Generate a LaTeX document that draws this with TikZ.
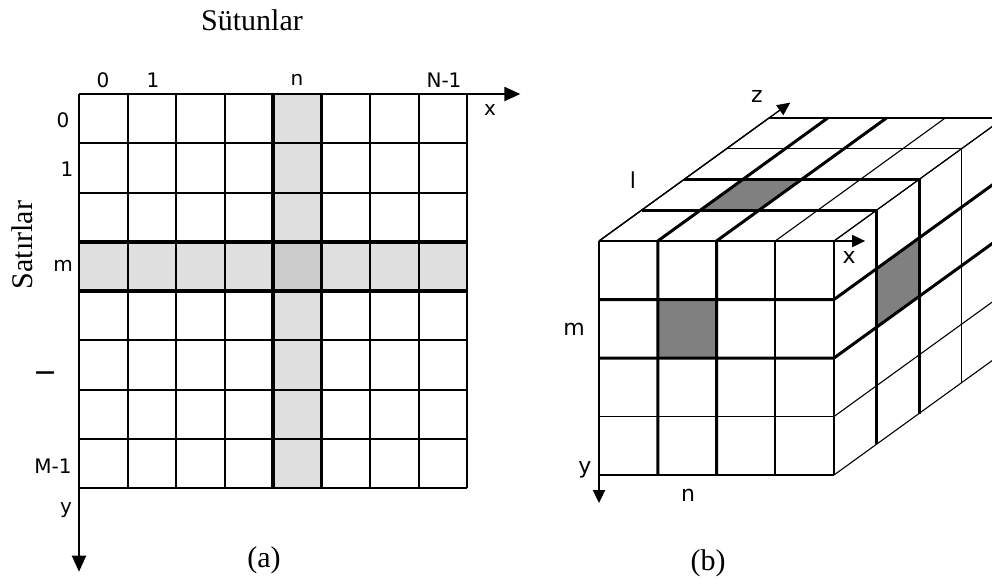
\documentclass[tikz,border=0pt]{standalone}
\usepackage{fontspec}
\setmainfont{Liberation Serif}
\newfontfamily\axisfont{DejaVu Sans}
\usetikzlibrary{arrows.meta}
\definecolor{bandgray}{RGB}{223,223,223}
\definecolor{crossgray}{RGB}{204,204,204}
\definecolor{cellgray}{RGB}{128,128,128}

\begin{document}
\begin{tikzpicture}[
  x=1pt, y=-1pt,
  gridline/.style={line width=2pt},
  boldline/.style={line width=3.6pt},
  boldcube/.style={line width=3pt},
  frontline/.style={line width=1.6pt},
  faceline/.style={line width=1.1pt},
  axis/.style={line width=2pt, -{Triangle[length=16pt, width=14pt]}},
  axiscube/.style={line width=1.8pt, -{Triangle[length=13pt, width=12pt]}},
  idx/.style={font=\axisfont\fontsize{20}{22}\selectfont, inner sep=0pt},
  idxcube/.style={font=\axisfont\fontsize{22}{24}\selectfont, inner sep=0pt},
  caption/.style={font=\fontsize{30}{34}\selectfont, inner sep=0pt}
]
\useasboundingbox (0,0) rectangle (992,583);
\clip (0,0) rectangle (992,583);

% (a) 2D image, 8x8 cells
\begin{scope}[shift={(79,94)}, x=48.5pt, y=-49.25pt]
  \fill[bandgray] (0,3) rectangle (8,4);
  \fill[bandgray] (4,0) rectangle (5,8);
  \fill[crossgray] (4,3) rectangle (5,4);
  \foreach \i in {0,...,8} \draw[gridline] (\i,0) -- (\i,8);
  \foreach \j in {0,...,8} \draw[gridline] (0,\j) -- (8,\j);
  \foreach \i in {4,5} \draw[boldline] (\i,0) -- (\i,8);
  \foreach \j in {3,4} \draw[boldline] (0,\j) -- (8,\j);
  \coordinate (Ao) at (0,0);
  \coordinate (Ax) at (9.1,0);
  \coordinate (Ay) at (0,9.7);
\end{scope}
\draw[axis] (Ao) -- (Ax);
\draw[axis] (Ao) -- (Ay);

\node[caption] (colTitle) at (252,20) {Sütunlar};
\node[caption, rotate=90] (rowTitle) at (22,245) {Satırlar};
\node[idx] (colZero) at (103,80) {0};
\node[idx] (colOne) at (153,80) {1};
\node[idx] (colN) at (297,80) {n};
\node[idx] (colLast) at (444,80) {N-1};
\node[idx] (axA) at (490,110) {x};
\node[idx] (rowZero) at (63,120) {0};
\node[idx] (rowOne) at (67,169) {1};
\node[idx] (rowM) at (63,266) {m};
\node[idx, font=\axisfont\bfseries\fontsize{20}{22}\selectfont] (rowDash) at (45,375) {—};
\node[idx] (rowLast) at (53,466) {M-1};
\node[idx] (ayA) at (66,510) {y};
\node[caption] (capA) at (264,560) {(a)};

% (b) 3D volume, 4x4x4 cells
\begin{scope}[shift={(599,241)}, x={(58.75pt,0pt)}, y={(0pt,-58.5pt)}, z={(42.5pt,30.75pt)}]
  \fill[cellgray] (1,1,0) rectangle (2,2,0);
  \fill[cellgray] (1,0,1) -- (2,0,1) -- (2,0,2) -- (1,0,2) -- cycle;
  \fill[cellgray] (4,1,1) -- (4,1,2) -- (4,2,2) -- (4,2,1) -- cycle;
  % front face
  \foreach \i in {0,...,4} \draw[frontline] (\i,0,0) -- (\i,4,0);
  \foreach \j in {0,...,4} \draw[frontline] (0,\j,0) -- (4,\j,0);
  % top face
  \foreach \k in {1,...,4} \draw[faceline] (0,0,\k) -- (4,0,\k);
  \foreach \i in {0,...,4} \draw[faceline] (\i,0,0) -- (\i,0,4);
  % right face
  \foreach \k in {1,...,4} \draw[faceline] (4,0,\k) -- (4,4,\k);
  \foreach \j in {0,...,4} \draw[faceline] (4,\j,0) -- (4,\j,4);
  % column n, row m and slice l
  \foreach \i in {1,2} \draw[boldcube] (\i,4,0) -- (\i,0,0) -- (\i,0,4);
  \foreach \j in {1,2} \draw[boldcube] (0,\j,0) -- (4,\j,0) -- (4,\j,4);
  \foreach \k in {1,2} \draw[boldcube] (0,0,\k) -- (4,0,\k) -- (4,4,\k);
  \coordinate (Bo) at (0,0,0);
  \coordinate (Bx) at (4.53,0,0);
  \coordinate (By) at (0,4.48,0);
  \coordinate (Bz) at (0,0,4.5);
\end{scope}
\draw[axiscube] (Bo) -- (Bx);
\draw[axiscube] (Bo) -- (By);
\draw[axiscube, line width=1.4pt] (Bo) -- (Bz);

\node[idxcube] (axB) at (849,257) {x};
\node[idxcube] (ayB) at (585,470) {y};
\node[idxcube] (azB) at (757,96) {z};
\node[idxcube] (sliceL) at (633,180) {l};
\node[idxcube] (rowMB) at (574,329) {m};
\node[idxcube] (colNB) at (688,495) {n};
\node[caption] (capB) at (708,563) {(b)};
\end{tikzpicture}
\end{document}
